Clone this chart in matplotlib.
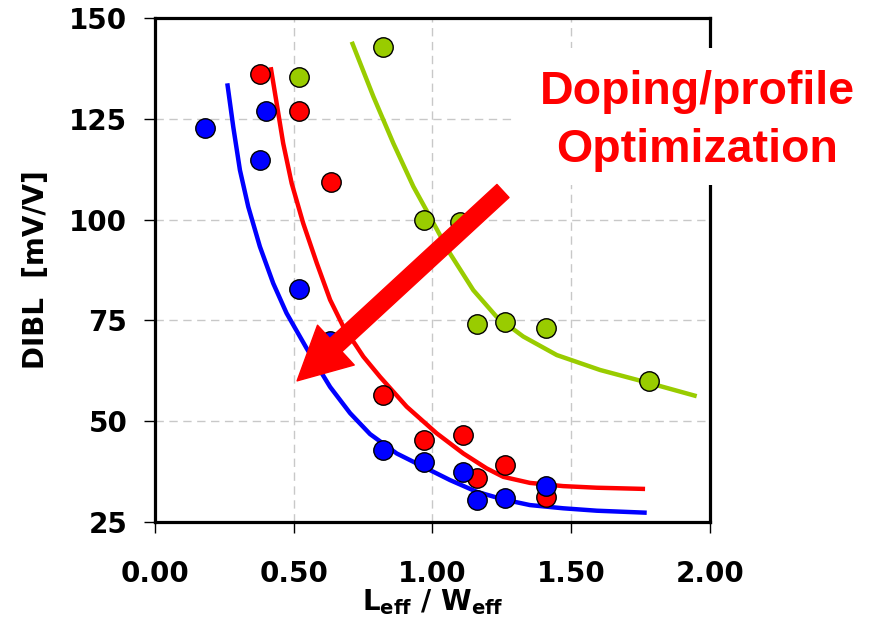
import matplotlib
matplotlib.use("Agg")
import matplotlib.pyplot as plt
from matplotlib.patches import FancyArrowPatch, Rectangle

plt.rcParams['font.family'] = ['DejaVu Sans']
plt.rcParams['font.weight'] = 'bold'
plt.rcParams['mathtext.fontset'] = 'dejavusans'

# ---- data ----
blue_x = [0.18, 0.38, 0.40, 0.52, 0.63, 0.82, 0.97, 1.11, 1.16, 1.26, 1.41]
blue_y = [122.7, 114.8, 127.0, 82.8, 70.0, 42.9, 39.9, 37.3, 30.4, 30.9, 33.9]

red_x = [0.38, 0.52, 0.635, 0.82, 0.97, 1.11, 1.16, 1.26, 1.41]
red_y = [136.1, 127.0, 109.4, 56.6, 45.3, 46.5, 36.0, 39.2, 31.3]

green_x = [0.52, 0.82, 0.97, 1.10, 1.16, 1.26, 1.41, 1.78]
green_y = [135.4, 142.9, 99.9, 99.5, 74.0, 74.5, 73.1, 60.0]

blue_fit_x = [0.2605, 0.282, 0.306, 0.336, 0.378, 0.426, 0.474, 0.547, 0.631, 0.703,
              0.775, 0.871, 0.967, 1.063, 1.159, 1.255, 1.351, 1.471, 1.592, 1.772]
blue_fit_y = [133.8, 123.0, 112.3, 103.2, 93.3, 84.2, 76.8, 68.0, 58.5, 52.0,
              46.8, 42.0, 38.7, 35.4, 32.5, 30.6, 29.2, 28.4, 27.8, 27.3]

red_fit_x = [0.417, 0.4385, 0.462, 0.4925, 0.534, 0.583, 0.631, 0.679, 0.727, 0.751,
             0.811, 0.907, 1.015, 1.111, 1.195, 1.255, 1.351, 1.471, 1.592, 1.766]
red_fit_y = [137.8, 128.8, 118.9, 109.0, 99.1, 89.2, 80.1, 73.4, 68.5, 66.0,
             61.0, 53.6, 47.0, 42.0, 38.3, 36.2, 34.7, 33.9, 33.5, 33.2]

green_fit_x = [0.709, 0.787, 0.859, 0.931, 0.991, 1.063, 1.147, 1.231, 1.327, 1.448,
               1.604, 1.784, 1.952]
green_fit_y = [144.1, 130.5, 118.9, 108.2, 100.7, 91.6, 82.5, 75.9, 71.0, 66.4,
               62.7, 59.4, 56.2]

arrow_tail = (1.254, 107.1)
arrow_tip = (0.512, 60.0)

x_ticks = [0.0, 0.5, 1.0, 1.5, 2.0]
x_labels = ['0.00', '0.50', '1.00', '1.50', '2.00']
y_ticks = [25, 50, 75, 100, 125, 150]

BLUE = '#0000FF'
RED = '#FF0000'
GREEN = '#99CC00'

fig = plt.figure(figsize=(8.78, 6.19), dpi=100)
ax = fig.add_axes([155/878, 1-522/619, 555/878, 504/619])
ax.set_xlim(0, 2.0)
ax.set_ylim(25, 150)

ax.set_xticks(x_ticks)
ax.set_xticklabels(x_labels)
ax.set_yticks(y_ticks)
ax.tick_params(axis='both', direction='out', length=8, width=1, labelsize=20,
               color='black')
ax.tick_params(axis='x', pad=19)
ax.tick_params(axis='y', pad=12)
for lbl in ax.get_xticklabels() + ax.get_yticklabels():
    lbl.set_fontweight('bold')

for s in ax.spines.values():
    s.set_linewidth(2.3)
    s.set_color('black')

ax.grid(True, color='#c8c8c8', linestyle=(0, (6, 4)), linewidth=1.0)
ax.set_axisbelow(True)

# fitted curves
line_kw = dict(lw=3.2, zorder=2, solid_capstyle='butt', solid_joinstyle='round')
ax.plot(green_fit_x, green_fit_y, color=GREEN, **line_kw)
ax.plot(red_fit_x, red_fit_y, color=RED, **line_kw)
ax.plot(blue_fit_x, blue_fit_y, color=BLUE, **line_kw)

# data points
mk = dict(marker='o', linestyle='none', markersize=14, markeredgecolor='black',
          markeredgewidth=1.0)
ax.plot(green_x, green_y, markerfacecolor=GREEN, zorder=3, **mk)
ax.plot(red_x, red_y, markerfacecolor=RED, zorder=3.1, **mk)
ax.plot(blue_x, blue_y, markerfacecolor=BLUE, zorder=3.2, **mk)

# big arrow
arr = FancyArrowPatch(arrow_tail, arrow_tip,
                      arrowstyle='simple,head_length=38,head_width=39,tail_width=12.8',
                      mutation_scale=1, color=RED, shrinkA=0, shrinkB=0, zorder=5)
ax.add_patch(arr)

# white box behind annotation text
rect = Rectangle((512/878, 1-185/619), (876-512)/878, (185-48)/619,
                 transform=fig.transFigure, facecolor='white', edgecolor='none',
                 zorder=10, clip_on=False)
fig.add_artist(rect)
fig.text(697/878, 1-121/619, 'Doping/profile\nOptimization', color=RED,
         fontsize=33.5, fontweight='bold', ha='center', va='center',
         family='Liberation Sans', linespacing=1.4, zorder=11)

ax.set_ylabel('DIBL  [mV/V]', fontsize=20, fontweight='bold', labelpad=14)
ax.set_xlabel(r'L$_{\mathbf{eff}}$ / W$_{\mathbf{eff}}$', fontsize=20,
              fontweight='bold', labelpad=0)

fig.savefig('out.png', dpi=100)
